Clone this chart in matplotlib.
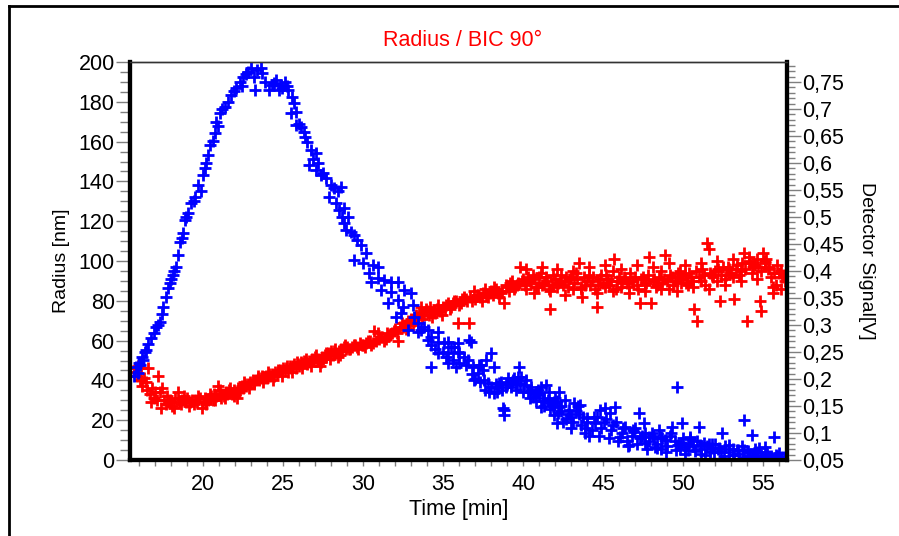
import matplotlib
matplotlib.use("Agg")
import matplotlib.pyplot as plt
from matplotlib.ticker import MultipleLocator, FuncFormatter
from matplotlib.lines import Line2D

# ---------------- data ----------------
# Radius (left axis, nm) vs time (min)
red_time = [15.65, 15.75, 15.85, 15.95, 16.05, 16.1, 16.2, 16.3, 16.4, 16.5, 16.55, 16.65, 16.75, 16.8, 16.9,
            17.0, 17.1, 17.2, 17.3, 17.35, 17.45, 17.55, 17.65, 17.75, 17.85, 17.95, 18.05, 18.15, 18.25, 18.4,
            18.5, 18.6, 18.7, 18.8, 18.9, 19.0, 19.1, 19.2, 19.3, 19.4, 19.5, 19.6, 19.7, 19.8, 19.9, 20.0,
            20.1, 20.2, 20.3, 20.4, 20.5, 20.6, 20.7, 20.8, 20.9, 21.0, 21.1, 21.2, 21.3, 21.4, 21.5, 21.6,
            21.7, 21.8, 21.9, 22.0, 22.1, 22.2, 22.3, 22.4, 22.5, 22.6, 22.7, 22.8, 22.9, 23.0, 23.1, 23.2,
            23.3, 23.4, 23.5, 23.6, 23.7, 23.8, 23.9, 24.0, 24.1, 24.2, 24.3, 24.4, 24.5, 24.6, 24.7, 24.8,
            24.9, 25.0, 25.1, 25.2, 25.3, 25.4, 25.5, 25.6, 25.7, 25.8, 25.9, 26.0, 26.1, 26.2, 26.3, 26.4,
            26.5, 26.6, 26.7, 26.8, 26.9, 27.0, 27.1, 27.2, 27.3, 27.4, 27.5, 27.6, 27.7, 27.8, 27.9, 28.0,
            28.1, 28.2, 28.3, 28.4, 28.5, 28.6, 28.7, 28.8, 28.9, 29.0, 29.2, 29.4, 29.6, 29.8, 30.0, 30.2,
            30.4, 30.6, 30.7, 30.9, 31.0, 31.2, 31.4, 31.5, 31.6, 31.8, 31.9, 32.0, 32.2, 32.3, 32.4, 32.6,
            32.8, 33.0, 33.2, 33.4, 33.5, 33.6, 33.8, 34.0, 34.2, 34.3, 34.4, 34.6, 34.8, 35.0, 35.2, 35.4,
            35.6, 35.8, 35.9, 36.0, 36.2, 36.3, 36.5, 36.6, 36.7, 36.9, 37.0, 37.2, 37.4, 37.5, 37.7, 37.8,
            38.0, 38.2, 38.4, 38.6, 38.8, 39.0, 39.2, 39.4, 39.6, 39.8, 39.9, 40.1, 40.3, 40.5, 40.7, 40.9,
            41.1, 41.3, 41.5, 41.7, 41.8, 42.0, 42.2, 42.4, 42.6, 42.8, 43.0, 43.2, 43.4, 43.5, 43.7, 43.9,
            44.1, 44.3, 44.5, 44.6, 44.8, 45.0, 45.2, 45.4, 45.7, 45.9, 46.1, 46.3, 46.5, 46.7, 46.9, 47.1,
            47.3, 47.5, 47.7, 47.9, 48.0, 48.2, 48.4, 48.6, 48.9, 49.0, 49.2, 49.4, 49.6, 49.8, 50.0, 50.2,
            50.4, 50.7, 50.9, 51.0, 51.2, 51.5, 51.6, 51.8, 52.0, 52.3, 52.5, 52.7, 52.9, 53.2, 53.4, 53.6,
            53.8, 54.0, 54.2, 54.4, 54.6, 54.8, 54.85, 55.0, 55.1, 55.3, 55.5, 55.6, 55.8, 56.0, 56.1, 56.3,
            56.5,
            # second pass through the dense band
            29.1, 29.3, 29.5, 29.7, 29.9, 30.1, 30.3, 30.5, 30.8, 31.1, 31.3, 31.7, 32.1, 32.5, 32.7, 32.9,
            33.1, 33.3, 33.7, 33.9, 34.1, 34.5, 34.7, 34.9, 35.1, 35.3, 35.5, 35.7, 36.1, 36.4, 36.8, 37.1,
            37.3, 37.6, 37.9, 38.1, 38.3, 38.5, 38.7, 38.9, 39.1, 39.3, 39.5, 39.7, 40.0, 40.2, 40.4, 40.6,
            40.8, 41.0, 41.2, 41.4, 41.6, 41.9, 42.1, 42.3, 42.5, 42.7, 42.9, 43.1, 43.3, 43.6, 43.8, 44.0,
            44.2, 44.4, 44.7, 44.9, 45.1, 45.3, 45.5, 45.6, 45.8, 46.0, 46.2, 46.4, 46.6, 46.8, 47.0, 47.2,
            47.4, 47.6, 47.8, 48.1, 48.3, 48.5, 48.7, 48.8, 49.1, 49.3, 49.5, 49.7, 49.9, 50.1, 50.3, 50.5,
            50.6, 50.8, 51.1, 51.3, 51.4, 51.7, 51.9, 52.1, 52.2, 52.4, 52.6, 52.8, 53.0, 53.1, 53.3, 53.5,
            53.7, 53.9, 54.1, 54.3, 54.5, 54.7, 54.9, 55.2, 55.4, 55.7, 55.9, 56.2, 56.4,
            # third pass
            20.15, 20.45, 20.75, 21.05, 21.35, 21.65, 21.95, 22.25, 22.55, 22.85, 23.15, 23.45, 23.75, 24.05,
            24.35, 24.65, 24.95, 25.25, 25.55, 25.85, 26.15, 26.45, 26.75, 27.05, 27.35, 27.65, 27.95, 28.25,
            28.55, 28.85,
            40.15, 40.65, 41.15, 41.65, 42.15, 42.65, 43.15, 43.65, 44.15, 44.65, 45.15, 45.65, 46.15, 46.65,
            47.15, 47.65, 48.15, 48.65, 49.15, 49.65, 50.15, 50.65, 51.15, 51.65, 52.15, 52.65, 53.15, 53.65,
            54.15, 54.65, 55.15, 55.65, 56.15]
red_radius = [44, 46, 42, 47, 40, 46, 37, 41, 39, 35, 46, 33, 29, 36, 31,
              34, 30, 42, 34, 26, 36, 30, 28, 32, 29, 30, 27, 26, 31, 34,
              29, 28, 30, 32, 29, 31, 27, 29, 30, 28, 30, 29, 32, 31, 26, 29,
              31, 29, 30, 31, 32, 30, 33, 32, 37, 33, 31, 33, 32, 34, 33, 35,
              34, 33, 35, 34, 31, 36, 35, 37, 36, 38, 37, 38, 39, 38, 40, 39,
              40, 41, 40, 41, 42, 41, 42, 41, 43, 42, 43, 42, 44, 43, 44, 45,
              44, 46, 45, 46, 44, 47, 46, 47, 48, 46, 48, 47, 49, 48, 50, 49,
              48, 50, 49, 51, 50, 52, 50, 51, 47, 52, 51, 53, 52, 54, 53, 55,
              53, 55, 54, 52, 55, 56, 55, 57, 56, 57, 56, 58, 57, 59, 58, 59,
              60, 59, 65, 64, 61, 62, 61, 64, 63, 64, 65, 66, 60, 67, 69, 68,
              70, 71, 70, 72, 74, 77, 73, 75, 77, 72, 75, 76, 75, 77, 78, 76,
              79, 80, 69, 78, 81, 82, 80, 69, 82, 85, 81, 83, 80, 84, 83, 82,
              85, 87, 84, 84, 79, 87, 89, 86, 88, 97, 90, 88, 92, 89, 91, 87,
              94, 89, 90, 76, 88, 91, 89, 93, 90, 87, 92, 89, 91, 99, 82, 88,
              93, 90, 86, 77, 91, 89, 93, 88, 101, 90, 87, 92, 89, 94, 90, 88,
              79, 92, 89, 102, 79, 91, 88, 95, 103, 90, 93, 88, 92, 95, 91, 89,
              94, 76, 70, 92, 96, 109, 106, 93, 95, 80, 97, 93, 96, 81, 98, 95,
              104, 70, 99, 97, 101, 80, 75, 104, 99, 96, 92, 84, 88, 94, 86, 93,
              91,
              56, 57, 58, 56, 58, 57, 60, 58, 60, 62, 60, 63, 64, 67, 66, 69,
              68, 73, 71, 76, 73, 74, 78, 73, 76, 79, 77, 80, 79, 81, 80, 83,
              82, 86, 84, 83, 86, 82, 85, 88, 85, 90, 87, 89, 91, 86, 90, 93,
              87, 92, 88, 92, 86, 93, 87, 90, 88, 92, 91, 86, 94, 87, 92, 90,
              88, 92, 88, 93, 87, 91, 90, 95, 86, 92, 89, 91, 87, 90, 92, 86,
              91, 88, 93, 90, 87, 92, 89, 91, 86, 92, 90, 94, 89, 93, 88, 92,
              90, 95, 90, 93, 88, 94, 92, 90, 96, 93, 91, 97, 94, 92, 96, 93,
              99, 96, 100, 94, 98, 97, 95, 101, 97, 94, 98, 92, 90,
              28, 33, 30, 35, 31, 36, 32, 34, 39, 36, 38, 42, 39, 44,
              40, 45, 42, 47, 44, 49, 46, 51, 47, 53, 49, 54, 51, 56,
              53, 58,
              96, 84, 97, 85, 96, 83, 95, 86, 97, 84, 98, 85, 96, 84,
              98, 85, 97, 86, 99, 85, 98, 87, 99, 86, 100, 88, 101, 90,
              102, 91, 100, 87, 95]

# Detector signal (right axis, V) vs time (min)
blue_time = [15.70, 15.92, 16.05, 16.24, 16.42, 16.74, 17.05, 17.30, 17.49, 17.68, 17.93, 18.12, 18.31, 18.43,
             18.56, 18.75, 18.87, 19.06, 19.25, 19.50, 19.69, 20.00, 20.19, 20.31, 20.44, 20.75, 20.82, 21.07,
             21.38, 21.57, 21.76, 22.07, 22.32, 22.51, 22.82, 23.01, 23.33, 23.58, 23.26, 23.89, 24.08, 24.27,
             24.52, 24.71, 24.89, 25.14, 25.33, 25.52, 25.65, 25.46, 25.77, 25.83, 26.09, 26.27, 26.46, 26.71,
             27.03, 26.59, 27.03, 27.34, 27.65, 27.97, 28.16, 27.84, 28.28, 28.47, 28.66, 28.78, 28.91, 28.60,
             28.78, 29.22, 29.41, 29.85, 30.16, 29.41, 29.98, 30.60, 30.92, 30.35, 30.92, 30.48, 31.29, 31.73,
             32.17, 31.11, 31.73, 32.55, 32.99, 31.54, 32.17, 32.49, 33.11, 32.05, 32.36, 33.18, 33.43, 33.80,
             32.80, 33.43, 34.05, 34.24, 34.68, 34.68, 35.31, 35.94, 36.63, 33.61, 34.05, 34.24, 35.06, 34.68,
             35.31, 35.68, 36.00, 34.24, 35.31, 35.81, 36.56, 36.88, 37.19, 37.38, 36.94, 38.01, 38.19, 37.82,
             37.88, 38.45, 38.63, 39.07, 39.26, 38.82, 38.82, 39.45, 39.76, 39.89, 40.08, 40.33, 40.64, 40.96,
             41.14, 41.46, 41.14, 41.58, 41.96, 41.96, 42.09, 42.27, 42.27, 35.50, 35.94, 36.31, 36.75, 37.25,
             37.50, 37.69, 37.57, 38.19, 38.51, 38.76, 38.95, 39.39, 39.70, 40.20, 40.52, 40.83, 41.33, 41.77,
             42.21, 42.59, 42.90, 43.21, 43.53, 43.84, 43.97, 44.47, 44.78, 45.10, 45.41, 45.72, 46.04, 46.35,
             46.92, 47.23, 47.54, 47.86, 48.23, 48.48, 48.86, 49.30, 49.61, 49.93, 50.12, 50.43, 51.00, 51.31,
             51.81, 52.44, 52.88, 53.38, 53.82, 54.32, 54.76, 55.13, 55.70, 56.01, 56.39,
             44.0, 44.3, 44.6, 44.9, 45.2, 45.5, 45.8, 46.2, 46.5, 46.8, 47.0, 47.3, 47.6, 47.9, 48.1, 48.4,
             48.7, 49.0, 49.2, 49.5, 49.8, 50.0, 50.3, 50.6, 50.9, 51.1, 51.5, 51.7, 52.0, 52.2, 52.6, 52.9,
             53.1, 53.5, 53.7, 54.0, 54.2, 54.5, 54.9, 55.2, 55.5, 55.8, 56.2, 56.4, 40.5, 40.8, 41.0, 41.3,
             41.6, 41.9, 42.1, 42.4, 42.7, 43.0, 43.3, 43.6, 43.9, 42.5, 43.0, 43.5, 34.5, 35.0, 35.2, 35.6,
             36.0, 36.4, 36.8, 37.0, 37.3, 37.6, 38.0, 38.3, 38.7, 39.0, 39.3, 39.6, 39.8,
             46.6, 47.6, 48.2, 48.6, 49.7, 50.3, 51.1, 51.8, 52.4, 53.2, 53.8, 54.4, 55.3, 56.0, 56.5,
             15.80, 16.00, 16.15, 16.35, 16.55, 16.90, 17.15, 17.40, 17.80, 18.00, 18.20, 18.65, 18.95, 19.40,
             19.85, 20.10, 20.60, 20.95, 21.20, 21.90, 22.40, 22.65, 23.15, 23.70, 24.40, 24.95, 25.25, 26.00,
             26.35, 26.85, 27.20, 27.50, 28.40, 29.05, 29.60,
             44.15, 44.45, 44.75, 45.05, 45.35, 45.65, 45.95, 46.25, 46.55, 46.85, 47.15, 47.45, 47.75, 48.05,
             48.35, 48.65, 48.95, 49.25, 49.55, 49.85, 50.15, 50.45, 50.75, 51.05, 51.35, 51.65, 51.95, 52.25,
             52.55, 52.85, 53.15, 53.45, 53.75, 54.05, 54.35, 54.65, 54.95, 55.25, 55.55, 55.85, 56.15, 56.45,
             38.35, 38.9, 39.55, 40.0, 40.4, 40.9, 41.25, 41.7, 42.0, 42.35, 42.8, 43.15, 43.45, 43.75]
blue_signal = [0.205, 0.211, 0.225, 0.235, 0.254, 0.276, 0.296, 0.306, 0.333, 0.352, 0.378, 0.393, 0.407, 0.430,
               0.454, 0.470, 0.494, 0.507, 0.526, 0.537, 0.559, 0.578, 0.600, 0.615, 0.633, 0.656, 0.676, 0.693,
               0.704, 0.713, 0.726, 0.739, 0.750, 0.759, 0.769, 0.776, 0.772, 0.776, 0.735, 0.750, 0.735, 0.744,
               0.754, 0.735, 0.744, 0.750, 0.735, 0.722, 0.711, 0.693, 0.694, 0.670, 0.667, 0.657, 0.639, 0.624,
               0.619, 0.596, 0.587, 0.578, 0.572, 0.559, 0.554, 0.537, 0.526, 0.513, 0.500, 0.489, 0.476, 0.556,
               0.517, 0.472, 0.467, 0.448, 0.433, 0.420, 0.415, 0.411, 0.407, 0.396, 0.387, 0.380, 0.383, 0.380,
               0.380, 0.365, 0.361, 0.365, 0.359, 0.341, 0.346, 0.333, 0.337, 0.315, 0.322, 0.315, 0.304, 0.296,
               0.291, 0.287, 0.291, 0.278, 0.287, 0.269, 0.269, 0.267, 0.272, 0.291, 0.272, 0.263, 0.267, 0.248,
               0.248, 0.259, 0.248, 0.222, 0.230, 0.222, 0.235, 0.222, 0.211, 0.226, 0.198, 0.248, 0.222, 0.193,
               0.176, 0.185, 0.194, 0.202, 0.185, 0.143, 0.133, 0.202, 0.222, 0.204, 0.189, 0.176, 0.167, 0.174,
               0.185, 0.189, 0.148, 0.161, 0.157, 0.133, 0.119, 0.176, 0.148, 0.259, 0.250, 0.241, 0.269, 0.226,
               0.217, 0.235, 0.198, 0.174, 0.193, 0.146, 0.185, 0.198, 0.204, 0.198, 0.185, 0.174, 0.165, 0.156,
               0.137, 0.161, 0.143, 0.156, 0.152, 0.100, 0.128, 0.119, 0.143, 0.146, 0.137, 0.148, 0.093, 0.111,
               0.102, 0.137, 0.119, 0.093, 0.074, 0.106, 0.087, 0.111, 0.185, 0.119, 0.074, 0.093, 0.111, 0.081,
               0.072, 0.100, 0.078, 0.069, 0.124, 0.096, 0.072, 0.074, 0.093, 0.063, 0.056,
               0.120, 0.105, 0.130, 0.110, 0.125, 0.105, 0.120, 0.100, 0.085, 0.095, 0.110, 0.090, 0.100, 0.085,
               0.095, 0.080, 0.090, 0.075, 0.095, 0.085, 0.070, 0.090, 0.080, 0.075, 0.085, 0.070, 0.075, 0.065,
               0.080, 0.070, 0.075, 0.065, 0.070, 0.062, 0.075, 0.065, 0.058, 0.070, 0.060, 0.065, 0.058, 0.060,
               0.055, 0.052, 0.180, 0.160, 0.170, 0.150, 0.175, 0.150, 0.160, 0.140, 0.125, 0.130, 0.140, 0.115,
               0.110, 0.120, 0.110, 0.135, 0.255, 0.250, 0.240, 0.235, 0.230, 0.225, 0.210, 0.200, 0.195, 0.180,
               0.185, 0.190, 0.180, 0.190, 0.195, 0.190, 0.190,
               0.078, 0.082, 0.090, 0.070, 0.078, 0.068, 0.062, 0.080, 0.064, 0.060, 0.068, 0.060, 0.058, 0.054,
               0.053,
               0.222, 0.230, 0.240, 0.250, 0.265, 0.285, 0.300, 0.320, 0.368, 0.385, 0.400, 0.462, 0.500, 0.530,
               0.548, 0.590, 0.640, 0.668, 0.700, 0.733, 0.742, 0.764, 0.760, 0.766, 0.748, 0.738, 0.742, 0.672,
               0.648, 0.608, 0.600, 0.582, 0.548, 0.500, 0.458,
               0.095, 0.130, 0.095, 0.120, 0.090, 0.115, 0.085, 0.110, 0.075, 0.105, 0.080, 0.095, 0.070, 0.100,
               0.072, 0.092, 0.065, 0.100, 0.068, 0.082, 0.062, 0.088, 0.066, 0.078, 0.060, 0.080, 0.064, 0.072,
               0.058, 0.070, 0.060, 0.068, 0.056, 0.066, 0.058, 0.064, 0.055, 0.062, 0.054, 0.058, 0.053, 0.052,
               0.175, 0.190, 0.180, 0.175, 0.165, 0.180, 0.160, 0.145, 0.165, 0.150, 0.135, 0.120, 0.150, 0.130]

x_major = 5
left_major, left_minor = 20, 5
right_major, right_minor = 0.05, 0.01

# ---------------- figure ----------------
W, H = 899, 536
fig = plt.figure(figsize=(W / 100, H / 100), dpi=100)
fig.patch.set_facecolor("white")

FONT = ["Liberation Sans", "DejaVu Sans"]
plt.rcParams["font.family"] = FONT

# outer frame (left + top edges visible)
fig.add_artist(Line2D([9 / W, 9 / W], [0, 1 - 6 / H], transform=fig.transFigure, color="black", lw=2))
fig.add_artist(Line2D([9 / W, 1], [1 - 6 / H, 1 - 6 / H], transform=fig.transFigure, color="black", lw=2))

L, R_, B, T = 130 / W, 787 / W, 1 - 460 / H, 1 - 62 / H
ax = fig.add_axes([L, B, R_ - L, T - B])
ax2 = ax.twinx()

ms, mew = 9, 2.0
ax.plot(red_time, red_radius, linestyle="none", marker="+", color="#ff0000", ms=ms, mew=mew, clip_on=True)
ax2.plot(blue_time, blue_signal, linestyle="none", marker="+", color="#0000ff", ms=ms, mew=mew, clip_on=True)

ax.set_xlim(15.42, 56.5)
ax.set_ylim(0, 200)
ax2.set_ylim(0.05, 0.787)

ax.xaxis.set_major_locator(MultipleLocator(x_major))
ax.xaxis.set_minor_locator(MultipleLocator(1))
ax.yaxis.set_major_locator(MultipleLocator(left_major))
ax.yaxis.set_minor_locator(MultipleLocator(left_minor))
ax2.yaxis.set_major_locator(MultipleLocator(right_major))
ax2.yaxis.set_minor_locator(MultipleLocator(right_minor))
ax2.yaxis.set_major_formatter(FuncFormatter(lambda v, p: ("%g" % round(v, 3)).replace(".", ",")))

tick_fs = 15.5
tc = "#7f7f7f"
ax.tick_params(axis="x", which="major", direction="out", length=4, width=1, color=tc,
               labelsize=tick_fs, pad=6)
ax.tick_params(axis="x", which="minor", direction="out", length=4, width=1, color=tc)
ax.tick_params(axis="y", which="major", direction="out", length=10, width=1, color=tc,
               labelsize=tick_fs, pad=1)
ax.tick_params(axis="y", which="minor", direction="out", length=7, width=1, color=tc)
ax2.tick_params(axis="y", which="major", direction="out", length=10, width=1, color=tc,
                labelsize=tick_fs, pad=1)
ax2.tick_params(axis="y", which="minor", direction="out", length=6, width=1, color=tc)

for a in (ax, ax2):
    a.spines["left"].set_linewidth(3)
    a.spines["bottom"].set_linewidth(3)
    a.spines["right"].set_linewidth(3)
    a.spines["top"].set_linewidth(1)
    a.spines["top"].set_color("#333333")

ax.set_xlabel("Time [min]", fontsize=tick_fs, labelpad=3)
ax.set_ylabel("Radius [nm]", fontsize=14, labelpad=6)
ax2.set_ylabel("Detector Signal[V]", fontsize=14, rotation=-90, labelpad=22)

fig.text(463 / W, 1 - 40 / H, "Radius / BIC 90°", color="#ff0000", fontsize=tick_fs,
         ha="center", va="center")

fig.savefig("out.png", dpi=100, facecolor="white")
